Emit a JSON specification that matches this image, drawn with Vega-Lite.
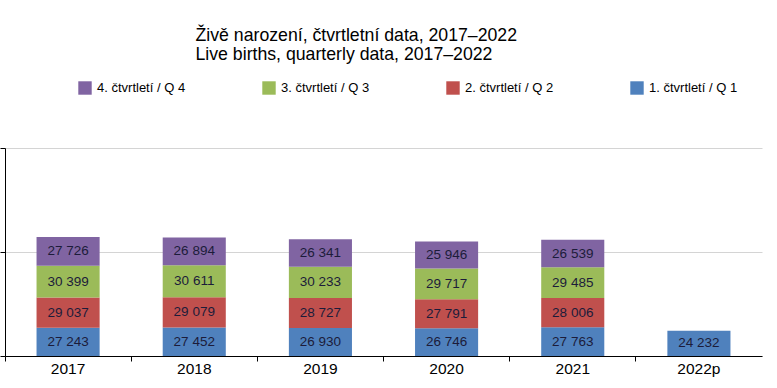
{
  "$schema": "https://vega.github.io/schema/vega-lite/v6.json",
  "autosize": {"type": "none"},
  "width": 757,
  "height": 208,
  "padding": {"left": 5, "top": 148, "right": 15, "bottom": 32},
  "background": "white",
  "title": {
    "text": ["Živě narození, čtvrtletní data, 2017–2022", "Live births, quarterly data, 2017–2022"],
    "anchor": "start",
    "dx": 196,
    "offset": 17,
    "font": "Liberation Sans",
    "fontSize": 17.7,
    "fontWeight": "normal",
    "color": "#000000",
    "lineHeight": 19
  },
  "config": {
    "view": {"stroke": null},
    "font": "Liberation Sans",
    "locale": {"number": {"decimal": ",", "thousands": " ", "grouping": [3], "currency": ["", ""]}}
  },
  "data": {
    "values": [
      {"year": "2017", "q": 1, "quarter": "1. čtvrtletí / Q 1", "value": 27243},
      {"year": "2017", "q": 2, "quarter": "2. čtvrtletí / Q 2", "value": 29037},
      {"year": "2017", "q": 3, "quarter": "3. čtvrtletí / Q 3", "value": 30399},
      {"year": "2017", "q": 4, "quarter": "4. čtvrtletí / Q 4", "value": 27726},
      {"year": "2018", "q": 1, "quarter": "1. čtvrtletí / Q 1", "value": 27452},
      {"year": "2018", "q": 2, "quarter": "2. čtvrtletí / Q 2", "value": 29079},
      {"year": "2018", "q": 3, "quarter": "3. čtvrtletí / Q 3", "value": 30611},
      {"year": "2018", "q": 4, "quarter": "4. čtvrtletí / Q 4", "value": 26894},
      {"year": "2019", "q": 1, "quarter": "1. čtvrtletí / Q 1", "value": 26930},
      {"year": "2019", "q": 2, "quarter": "2. čtvrtletí / Q 2", "value": 28727},
      {"year": "2019", "q": 3, "quarter": "3. čtvrtletí / Q 3", "value": 30233},
      {"year": "2019", "q": 4, "quarter": "4. čtvrtletí / Q 4", "value": 26341},
      {"year": "2020", "q": 1, "quarter": "1. čtvrtletí / Q 1", "value": 26746},
      {"year": "2020", "q": 2, "quarter": "2. čtvrtletí / Q 2", "value": 27791},
      {"year": "2020", "q": 3, "quarter": "3. čtvrtletí / Q 3", "value": 29717},
      {"year": "2020", "q": 4, "quarter": "4. čtvrtletí / Q 4", "value": 25946},
      {"year": "2021", "q": 1, "quarter": "1. čtvrtletí / Q 1", "value": 27763},
      {"year": "2021", "q": 2, "quarter": "2. čtvrtletí / Q 2", "value": 28006},
      {"year": "2021", "q": 3, "quarter": "3. čtvrtletí / Q 3", "value": 29485},
      {"year": "2021", "q": 4, "quarter": "4. čtvrtletí / Q 4", "value": 26539},
      {"year": "2022p", "q": 1, "quarter": "1. čtvrtletí / Q 1", "value": 24232}
    ]
  },
  "transform": [
    {"stack": "value", "groupby": ["year"], "sort": [{"field": "q", "order": "ascending"}], "as": ["y0", "y1"]},
    {"calculate": "(datum.y0 + datum.y1) / 2", "as": "ymid"}
  ],
  "encoding": {
    "x": {
      "field": "year",
      "type": "nominal",
      "scale": {"paddingInner": 0, "paddingOuter": 0},
      "axis": {
        "title": null,
        "labelAngle": 0,
        "labelFontSize": 15.5,
        "labelColor": "#000000",
        "labelPadding": 0,
        "domainColor": "#000000",
        "tickColor": "#000000",
        "tickSize": 5,
        "bandPosition": 0,
        "grid": false
      }
    }
  },
  "layer": [
    {
      "mark": {"type": "bar", "width": {"band": 0.5}},
      "encoding": {
        "y": {
          "field": "y0",
          "type": "quantitative",
          "scale": {"domain": [0, 200000], "nice": false},
          "axis": {
            "title": null,
            "labels": false,
            "values": [0, 100000, 200000],
            "domainColor": "#000000",
            "tickColor": "#000000",
            "tickSize": 5,
            "gridColor": "#d4d4d4",
            "grid": true
          }
        },
        "y2": {"field": "y1"},
        "color": {
          "field": "quarter",
          "type": "nominal",
          "scale": {
            "domain": ["4. čtvrtletí / Q 4", "3. čtvrtletí / Q 3", "2. čtvrtletí / Q 2", "1. čtvrtletí / Q 1"],
            "range": ["#8064a2", "#9bbb59", "#c0504d", "#4f81bd"]
          },
          "legend": {
            "title": null,
            "orient": "none",
            "legendX": 73,
            "legendY": -67,
            "direction": "horizontal",
            "columns": 4,
            "columnPadding": 76,
            "symbolType": "square",
            "symbolSize": 180,
            "symbolStrokeWidth": 0,
            "symbolOpacity": 1,
            "labelFontSize": 13,
            "labelColor": "#000000",
            "labelOffset": 5
          }
        }
      }
    },
    {
      "mark": {"type": "text", "fontSize": 13.5, "color": "#1c1c3a"},
      "encoding": {
        "y": {"field": "ymid", "type": "quantitative"},
        "text": {"field": "value", "type": "quantitative", "format": ",d"}
      }
    }
  ]
}
